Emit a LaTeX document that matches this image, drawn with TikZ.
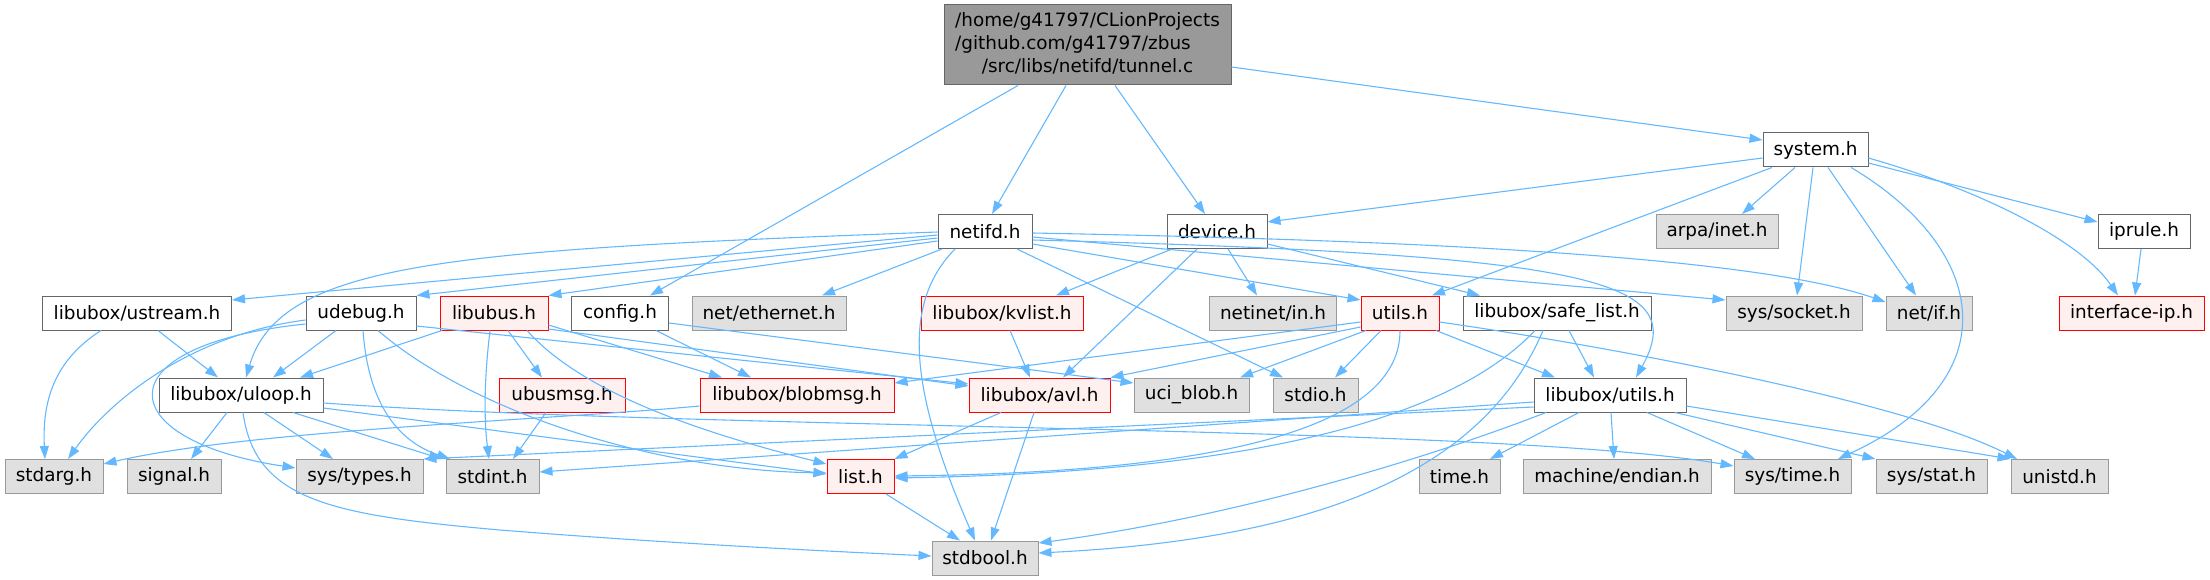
\documentclass[tikz,border=0pt]{standalone}
\usepackage{fontspec}
\setmainfont{DejaVu Sans}
\usetikzlibrary{arrows.meta}
\definecolor{edgecol}{HTML}{63B8FF}
\definecolor{graydark}{HTML}{666666}
\definecolor{grayline}{HTML}{999999}
\definecolor{grayfill}{HTML}{E0E0E0}
\definecolor{rootfill}{HTML}{999999}
\definecolor{redline}{HTML}{FF0000}
\definecolor{redfill}{HTML}{FFF0F0}
\begin{document}
\begin{tikzpicture}[x=1pt,y=-1pt,
  nd/.style={draw, line width=1.0pt, minimum height=34pt, inner sep=0pt, anchor=center,
    font=\fontsize{18.4}{22.8}\selectfont},
  wn/.style={nd, fill=white, draw=graydark},
  gn/.style={nd, fill=grayfill, draw=grayline},
  rn/.style={nd, fill=redfill, draw=redline},
  ed/.style={draw=edgecol, line width=1.1pt, -{Triangle[length=13pt,width=9pt]}}
]
\useasboundingbox (0,0) rectangle (2210,580);
% row 1
\node[nd, fill=rootfill, draw=graydark, minimum width=287pt, minimum height=80pt] (root) at (1087.5,45)
  {\begin{tabular}{@{}l@{}}/home/g41797/CLionProjects\\/github.com/g41797/zbus\\\multicolumn{1}{@{}c@{}}{/src/libs/netifd/tunnel.c}\end{tabular}};
% row 2
\node[wn, minimum width=105pt] (system) at (1815.5,150) {system.h};
% row 3
\node[wn, minimum width=94pt] (netifd) at (985,231.5) {netifd.h};
\node[wn, minimum width=100pt] (device) at (1217,231.5) {device.h};
\node[gn, minimum width=122pt] (arpa) at (1717,231.5) {arpa/inet.h};
\node[wn, minimum width=92pt] (iprule) at (2144,231.5) {iprule.h};
% row 4
\node[wn, minimum width=189pt] (ustream) at (137,313) {libubox/ustream.h};
\node[wn, minimum width=110pt] (udebug) at (361,313) {udebug.h};
\node[rn, minimum width=108pt] (libubus) at (494,313) {libubus.h};
\node[wn, minimum width=97pt] (config) at (620,313) {config.h};
\node[gn, minimum width=154pt] (ethernet) at (769,313) {net/ethernet.h};
\node[rn, minimum width=162pt] (kvlist) at (1002,313) {libubox/kvlist.h};
\node[gn, minimum width=127pt] (netinet) at (1273,313) {netinet/in.h};
\node[rn, minimum width=78pt] (utils) at (1400,313) {utils.h};
\node[wn, minimum width=188pt] (safelist) at (1557,313) {libubox/safe\_list.h};
\node[gn, minimum width=136pt] (socket) at (1794,313) {sys/socket.h};
\node[gn, minimum width=86pt] (netif) at (1929,313) {net/if.h};
\node[rn, minimum width=145pt] (ifaceip) at (2131.5,313) {interface-ip.h};
% row 5
\node[wn, minimum width=164pt] (uloop) at (241,395) {libubox/uloop.h};
\node[rn, minimum width=126pt] (ubusmsg) at (562,395) {ubusmsg.h};
\node[rn, minimum width=194pt] (blobmsg) at (797,395) {libubox/blobmsg.h};
\node[rn, minimum width=141pt] (avl) at (1039.5,395) {libubox/avl.h};
\node[gn, minimum width=115pt] (ucib) at (1191.5,395) {uci\_blob.h};
\node[gn, minimum width=85pt] (stdio) at (1315.5,395) {stdio.h};
\node[wn, minimum width=152pt] (lutils) at (1610,395) {libubox/utils.h};
% row 6
\node[gn, minimum width=98pt] (stdarg) at (54,476.5) {stdarg.h};
\node[gn, minimum width=94pt] (signal) at (174,476.5) {signal.h};
\node[gn, minimum width=127pt] (systypes) at (359.5,476.5) {sys/types.h};
\node[gn, minimum width=93pt] (stdint) at (492.5,476.5) {stdint.h};
\node[rn, minimum width=67pt] (list) at (860.5,476.5) {list.h};
\node[gn, minimum width=81pt] (time) at (1459.5,476.5) {time.h};
\node[gn, minimum width=188pt] (endian) at (1617,476.5) {machine/endian.h};
\node[gn, minimum width=117pt] (systime) at (1792.5,476.5) {sys/time.h};
\node[gn, minimum width=111pt] (sysstat) at (1931.5,476.5) {sys/stat.h};
\node[gn, minimum width=97pt] (unistd) at (2059.5,476.5) {unistd.h};
% row 7
\node[gn, minimum width=106pt] (stdbool) at (985,558) {stdbool.h};

% root
\draw[ed] (root.south -| 1018,0) -- (config.north -| 650,0);
\draw[ed] (root.south -| 1066,0) -- (netifd.north -| 992,0);
\draw[ed] (root.south -| 1115,0) -- (device.north -| 1205,0);
\draw[ed] (root.east |- 0,67) -- (system.west |- 0,140);
% system
\draw[ed] (system.west |- 0,158) -- (device.east |- 0,222);
\draw[ed] (system.south -| 1772,0) -- (utils.north -| 1432,0);
\draw[ed] (system.south -| 1795,0) -- (arpa.north -| 1742,0);
\draw[ed] (system.south -| 1813,0) -- (socket.north -| 1797,0);
\draw[ed] (system.south -| 1828,0) -- (netif.north -| 1916,0);
\draw[ed] (system.south -| 1851,0) .. controls (1990,250) and (2010,380) .. (systime.north -| 1838,0);
\draw[ed] (system.east |- 0,163) -- (iprule.west |- 0,222);
\draw[ed] (system.east |- 0,158) .. controls (1980,190) and (2080,240) .. (ifaceip.north -| 2118,0);
\draw[ed] (iprule.south -| 2141,0) -- (ifaceip.north -| 2135,0);
% netifd
\draw[ed] (netifd.west |- 0,232) .. controls (450,250) and (280,262) .. (uloop.north -| 246,0);
\draw[ed] (netifd.west |- 0,235) -- (ustream.east |- 0,300);
\draw[ed] (netifd.west |- 0,238) -- (udebug.north east);
\draw[ed] (netifd.west |- 0,241) -- (libubus.north east);
\draw[ed] (netifd.south -| 942,0) -- (ethernet.north -| 822,0);
\draw[ed] (netifd.south -| 955,0) .. controls (905,300) and (905,380) .. (stdbool.north -| 975,0);
\draw[ed] (netifd.south -| 1017,0) -- (stdio.north -| 1283,0);
\draw[ed] (netifd.east |- 0,244) -- (utils.west |- 0,300);
\draw[ed] (netifd.east |- 0,237) -- (socket.west |- 0,300);
\draw[ed] (netifd.east |- 0,233) .. controls (1400,240) and (1750,255) .. (netif.west |- 0,302);
\draw[ed] (netifd.east |- 0,240) .. controls (1600,255) and (1690,280) .. (lutils.north -| 1636,0);
% device
\draw[ed] (device.south -| 1172,0) -- (kvlist.north -| 1056,0);
\draw[ed] (device.south -| 1197,0) -- (avl.north -| 1063,0);
\draw[ed] (device.south -| 1228,0) -- (netinet.north -| 1257,0);
\draw[ed] (device.east |- 0,244) -- (safelist.north -| 1480,0);
% utils
\draw[ed] (utils.west |- 0,322) -- (blobmsg.east |- 0,383);
\draw[ed] (utils.west |- 0,327) -- (avl.north east);
\draw[ed] (utils.south -| 1366,0) -- (ucib.north -| 1240,0);
\draw[ed] (utils.south -| 1381,0) -- (stdio.north -| 1335,0);
\draw[ed] (utils.south -| 1400,0) .. controls (1400,420) and (1250,472) .. (list.east |- 0,476);
\draw[ed] (utils.south -| 1436,0) -- (lutils.north -| 1555,0);
\draw[ed] (utils.east |- 0,322) .. controls (1600,345) and (1900,400) .. (unistd.north -| 2017,0);
% safe_list
\draw[ed] (safelist.south -| 1569,0) -- (lutils.north -| 1594,0);
\draw[ed] (safelist.south -| 1535,0) .. controls (1450,420) and (1250,472) .. (list.east |- 0,478);
\draw[ed] (safelist.south -| 1543,0) .. controls (1480,480) and (1300,540) .. (stdbool.east |- 0,553);
% libubox/utils
\draw[ed] (lutils.south -| 1579,0) -- (time.north -| 1490,0);
\draw[ed] (lutils.south -| 1611,0) -- (endian.north -| 1614,0);
\draw[ed] (lutils.south -| 1647,0) -- (systime.north -| 1755,0);
\draw[ed] (lutils.south -| 1675,0) -- (sysstat.north west);
\draw[ed] (lutils.east |- 0,406) -- (unistd.north west);
\draw[ed] (lutils.south -| 1546,0) .. controls (1450,450) and (1250,515) .. (stdbool.east |- 0,543);
\draw[ed] (lutils.west |- 0,402) -- (stdint.east |- 0,472);
\draw[ed] (lutils.west |- 0,407) -- (systypes.north east);
% udebug
\draw[ed] (udebug.west |- 0,320) .. controls (190,335) and (110,400) .. (stdarg.north -| 68,0);
\draw[ed] (udebug.west |- 0,324) .. controls (100,345) and (110,440) .. (systypes.west |- 0,468);
\draw[ed] (udebug.south -| 336,0) -- (uloop.north -| 273,0);
\draw[ed] (udebug.south -| 363,0) .. controls (368,400) and (395,440) .. (stdint.north -| 450,0);
\draw[ed] (udebug.south -| 378,0) .. controls (470,410) and (650,470) .. (list.west |- 0,473);
\draw[ed] (udebug.east |- 0,326) -- (avl.west |- 0,384);
% libubus
\draw[ed] (libubus.south -| 442,0) -- (uloop.north -| 300,0);
\draw[ed] (libubus.south -| 508,0) -- (ubusmsg.north -| 542,0);
\draw[ed] (libubus.south -| 490,0) .. controls (484,380) and (484,420) .. (stdint.north -| 489,0);
\draw[ed] (libubus.east |- 0,325) -- (blobmsg.north -| 722,0);
\draw[ed] (libubus.east |- 0,329) -- (avl.west |- 0,386);
\draw[ed] (libubus.south -| 527,0) .. controls (580,390) and (690,430) .. (list.west |- 0,464);
% config
\draw[ed] (config.south -| 656,0) -- (blobmsg.north -| 751,0);
\draw[ed] (config.east |- 0,323) -- (ucib.west |- 0,383);
% ustream
\draw[ed] (ustream.south -| 101,0) .. controls (55,360) and (42,400) .. (stdarg.north -| 45,0);
\draw[ed] (ustream.south -| 158,0) -- (uloop.north -| 218,0);
% uloop
\draw[ed] (uloop.south -| 227,0) -- (signal.north -| 191,0);
\draw[ed] (uloop.south -| 264,0) -- (systypes.north -| 333,0);
\draw[ed] (uloop.south -| 293,0) -- (stdint.north -| 442,0);
\draw[ed] (uloop.south -| 243,0) .. controls (255,500) and (330,515) .. (500,530) .. controls (650,542) and (800,550) .. (stdbool.west |- 0,556);
\draw[ed] (uloop.east |- 0,408) -- (list.west |- 0,474);
\draw[ed] (uloop.east |- 0,403) .. controls (700,430) and (1500,425) .. (systime.west |- 0,466);
% others
\draw[ed] (ubusmsg.south -| 546,0) -- (stdint.north -| 513,0);
\draw[ed] (blobmsg.west |- 0,406) .. controls (550,420) and (250,430) .. (stdarg.east |- 0,464);
\draw[ed] (avl.south -| 1001,0) -- (list.north east);
\draw[ed] (avl.south -| 1034,0) -- (stdbool.north -| 991,0);
\draw[ed] (kvlist.south -| 1010,0) -- (avl.north -| 1030,0);
\draw[ed] (list.south -| 886,0) -- (stdbool.north -| 960,0);
\end{tikzpicture}
\end{document}
